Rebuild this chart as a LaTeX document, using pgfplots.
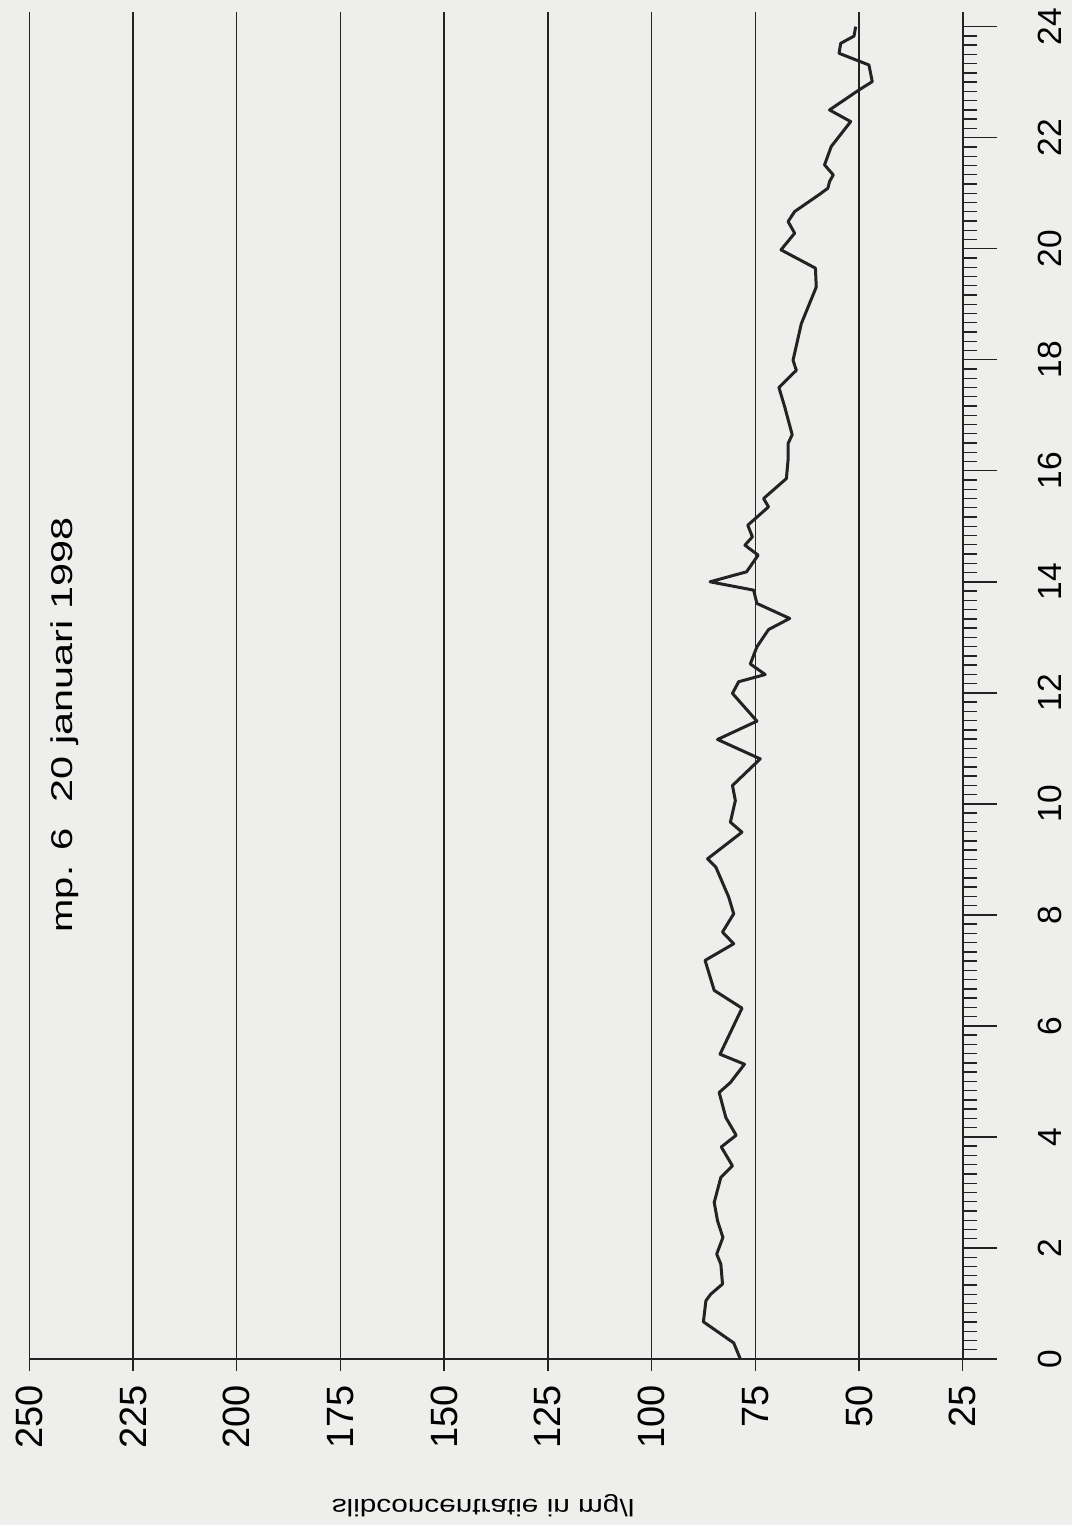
\documentclass[border=0pt]{standalone}
\usepackage{fontspec}
\setmainfont{Liberation Sans}
\usepackage{graphicx}
\usepackage{pgfplots}
\pgfplotsset{compat=1.18}
\usetikzlibrary{backgrounds}
\definecolor{paper}{RGB}{238,238,236}
\definecolor{ink}{RGB}{35,35,35}

% time (h) against slib concentration (mg/l)
\pgfplotstableread{
t c
0.00 78.6
0.29 80.2
0.67 87.5
1.05 86.9
1.17 85.7
1.35 82.9
1.71 83.3
1.89 84.3
2.19 82.8
2.49 84.1
2.82 84.9
3.27 83.3
3.48 80.5
3.82 83.2
4.03 79.6
4.35 82.1
4.80 83.7
4.98 81.0
5.31 77.6
5.49 83.5
6.32 78.2
6.64 84.9
7.18 87.1
7.48 80.2
7.69 82.9
8.02 80.2
8.32 81.4
8.86 84.5
9.01 86.5
9.49 78.2
9.67 81.0
10.06 79.8
10.33 80.5
10.81 73.8
11.16 84.1
11.49 74.6
11.99 80.5
12.20 79.0
12.33 72.6
12.52 76.2
12.83 74.6
13.14 71.8
13.34 66.7
13.61 74.6
13.85 75.4
14.00 85.9
14.18 77.1
14.48 74.3
14.66 77.5
14.81 75.7
15.02 76.8
15.35 71.8
15.50 73.0
15.86 67.5
16.19 67.1
16.49 67.1
16.65 66.1
17.15 67.9
17.50 69.3
17.81 65.1
17.99 65.9
18.65 63.9
19.31 60.3
19.65 60.5
19.98 68.8
20.28 65.5
20.49 67.1
20.67 65.5
20.98 59.5
21.09 57.5
21.21 57.1
21.33 56.2
21.51 58.3
21.84 56.7
22.29 52.0
22.50 57.1
22.86 50.0
23.01 46.8
23.31 47.6
23.52 54.8
23.70 54.4
23.83 51.2
24.00 50.8
}\slib

\begin{document}
\begin{tikzpicture}
\begin{axis}[
    scale only axis,
    width=466.7pt, height=673.65pt,
    x dir=reverse,
    xmin=25, xmax=250, ymin=0, ymax=24.27,
    axis x line*=bottom, axis y line*=right,
    xtick={25,50,...,250},
    ytick={0,2,...,24},
    minor y tick num=11,
    tick align=outside,
    major tick length=17pt, minor tick length=7pt,
    xtick style={/pgfplots/major tick length=6pt},
    xmajorgrids,
    major x grid style={ink, line width=0.7pt},
    axis line style={ink, line width=0.8pt},
    every tick/.append style={ink, line width=0.7pt},
    /pgf/number format/assume math mode=true,
    xticklabel style={rotate=90, anchor=east, inner sep=0pt, font=\fontsize{19}{22}\selectfont},
    yticklabel style={rotate=90, anchor=north, inner sep=0pt, font=\fontsize{16.75}{20}\selectfont},
    xticklabel shift=-4pt, yticklabel shift=20.65pt,
    clip=false,
]
\addplot[ink, line width=1.5pt, line join=round] table[x=c, y=t] {\slib};

\node[rotate=90, anchor=base west, inner sep=0pt, font=\fontsize{15}{18}\selectfont]
    at (axis cs:239.5,7.68) {\scalebox{1.33}[1]{mp. 6}};
\node[rotate=90, anchor=base west, inner sep=0pt, font=\fontsize{15}{18}\selectfont]
    at (axis cs:239.5,10.02) {\scalebox{1.38}[1]{20 januari 1998}};
\node[inner sep=0pt, font=\fontsize{12}{14}\selectfont]
    at (axis cs:140.6,-2.65) {\scalebox{1.24}[-1]{slibconcentratie in mg/l}};

\coordinate (BL) at (axis cs:250,0);
\coordinate (TR) at (axis cs:25,24.27);
\end{axis}
\begin{pgfonlayer}{background}
\fill[paper] ([shift={(-14.65pt,-83pt)}]BL) rectangle ([shift={(54.65pt,5.85pt)}]TR);
\end{pgfonlayer}
\pgfresetboundingbox
\path[use as bounding box] ([shift={(-14.65pt,-83pt)}]BL) rectangle ([shift={(54.65pt,5.85pt)}]TR);
\end{tikzpicture}
\end{document}
